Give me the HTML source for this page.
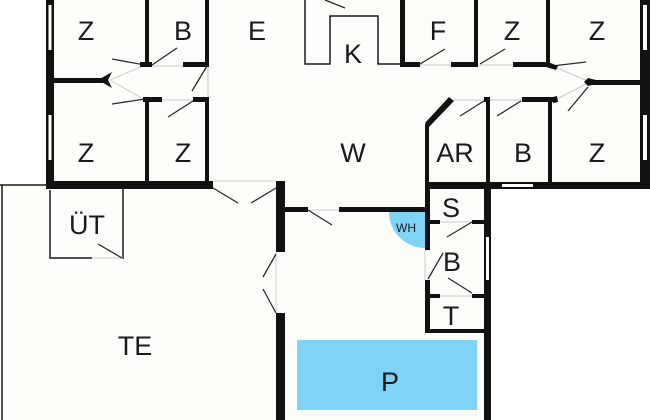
<!DOCTYPE html>
<html><head><meta charset="utf-8"><style>
html,body{margin:0;padding:0;background:#fff;}
svg{display:block;}
text{font-family:"Liberation Sans",sans-serif;fill:#1a1a1a;text-anchor:middle;}
</style></head><body>
<svg width="650" height="420" viewBox="0 0 650 420" xmlns="http://www.w3.org/2000/svg">
<!-- interior fills -->
<g fill="#fdfdf9">
<rect x="46" y="0" width="604" height="189"/>
<rect x="0" y="185" width="284" height="235"/>
<rect x="276" y="180" width="214" height="240"/>
</g>
<!-- P pool -->
<rect x="297" y="340" width="180" height="70" fill="#7fd3f5"/>
<!-- WH -->
<path d="M425,212 L389,212 A36,36 0 0 0 425,248 Z" fill="#7fd3f5"/>
<!-- thin lines -->
<g stroke="#1a1a1a" stroke-width="1.5" fill="none">
<polyline points="305,0 305,64 330,64 330,16 378,16 378,64 400,64"/>
<polyline points="0,185 46,185"/>
<line x1="2" y1="185" x2="2" y2="420"/>
<polyline points="92,258 50,258 50,190"/>
<line x1="123" y1="189" x2="123" y2="259"/>
</g>
<!-- light door-opening lines -->
<g stroke="#ccc" stroke-width="1" fill="none">
<line x1="152" y1="66" x2="183" y2="66"/>
<line x1="162" y1="100" x2="193" y2="100"/>
<line x1="208" y1="65" x2="208" y2="98"/>
<line x1="213" y1="181" x2="276" y2="181"/>
<line x1="276" y1="252" x2="276" y2="313"/>
<line x1="308" y1="210" x2="339" y2="210"/>
<line x1="420" y1="65" x2="451" y2="65"/>
<line x1="478" y1="65" x2="513" y2="65"/>
<line x1="453" y1="100" x2="487" y2="100"/>
<line x1="490" y1="100" x2="522" y2="100"/>
<line x1="92" y1="258" x2="123" y2="258"/>
<line x1="425" y1="250" x2="425" y2="280"/>
<line x1="440" y1="222" x2="472" y2="222"/>
<line x1="440" y1="296" x2="472" y2="296"/>
<line x1="110" y1="80" x2="145" y2="65"/>
<line x1="110" y1="80" x2="145" y2="100"/>
<line x1="590" y1="82" x2="552" y2="66"/>
<line x1="590" y1="82" x2="555" y2="100"/>
</g>
<!-- door swings -->
<g stroke="#2a2a2a" stroke-width="1.3" fill="none">
<line x1="112" y1="59" x2="145" y2="65"/>
<line x1="152" y1="65" x2="177" y2="48"/>
<line x1="112" y1="104" x2="145" y2="99"/>
<line x1="168" y1="117" x2="193" y2="101"/>
<line x1="207" y1="66" x2="192" y2="91"/>
<line x1="213" y1="188" x2="238" y2="203"/>
<line x1="276" y1="188" x2="251" y2="203"/>
<line x1="276" y1="254" x2="263" y2="277"/>
<line x1="276" y1="313" x2="263" y2="289"/>
<line x1="308" y1="210" x2="332" y2="225"/>
<line x1="98" y1="244" x2="122" y2="258"/>
<line x1="420" y1="64" x2="445" y2="49"/>
<line x1="480" y1="64" x2="505" y2="49"/>
<line x1="552" y1="66" x2="586" y2="62"/>
<line x1="568" y1="111" x2="588" y2="87"/>
<line x1="460" y1="116" x2="484" y2="101"/>
<line x1="497" y1="116" x2="521" y2="101"/>
<line x1="325" y1="0" x2="345" y2="8"/>
<line x1="447" y1="237" x2="472" y2="222"/>
<line x1="428" y1="279" x2="443" y2="253"/>
<line x1="448" y1="278" x2="472" y2="293"/>
</g>
<!-- thick walls -->
<g fill="#111">
<rect x="46" y="0" width="8" height="189"/>
<rect x="54" y="78" width="50" height="5"/>
<polygon points="98,80 112,72 108,80 112,88"/>
<rect x="145" y="0" width="4" height="66"/>
<rect x="140" y="62" width="12" height="5"/>
<rect x="183" y="62" width="26" height="5"/>
<rect x="205" y="0" width="4" height="66"/>
<rect x="143" y="97" width="19" height="5"/>
<rect x="193" y="97" width="16" height="5"/>
<rect x="145" y="97" width="4" height="88"/>
<rect x="205" y="97" width="4" height="88"/>
<rect x="46" y="181" width="167" height="8"/>
<rect x="276" y="181" width="9" height="71"/>
<rect x="276" y="313" width="9" height="107"/>
<rect x="285" y="207" width="23" height="5"/>
<rect x="339" y="207" width="87" height="5"/>
<rect x="400" y="0" width="5" height="67"/>
<rect x="400" y="62" width="20" height="5"/>
<rect x="451" y="62" width="27" height="5"/>
<rect x="474" y="0" width="4" height="67"/>
<rect x="513" y="62" width="37" height="5"/>
<rect x="546" y="0" width="4" height="67"/>
<polygon points="548,62 558,66 556,70 546,67"/>
<rect x="592" y="80" width="54" height="5"/>
<polygon points="604,82 588,78 584,82 588,86"/>
<rect x="640" y="0" width="10" height="189"/>
<polygon points="449,97 454,101 429,127 425,123"/>
<rect x="425" y="124" width="4" height="88"/>
<rect x="484" y="97" width="6" height="5"/>
<rect x="522" y="97" width="33" height="5"/>
<polygon points="553,97 557,96 558,102 553,103"/>
<rect x="486" y="97" width="4" height="323"/>
<rect x="548" y="100" width="4" height="85"/>
<rect x="425" y="182" width="225" height="7"/>
<rect x="425" y="182" width="5" height="68"/>
<rect x="425" y="280" width="5" height="53"/>
<rect x="484" y="185" width="7" height="235"/>
<rect x="430" y="220" width="10" height="4"/>
<rect x="472" y="220" width="13" height="4"/>
<rect x="430" y="294" width="10" height="4"/>
<rect x="472" y="294" width="13" height="4"/>
<rect x="425" y="329" width="65" height="4"/>
</g>
<!-- windows -->
<g fill="#fff">
<rect x="48.5" y="5" width="3" height="45"/>
<rect x="48.5" y="115" width="3" height="45"/>
<rect x="643" y="5" width="4" height="45"/>
<rect x="643" y="115" width="4" height="45"/>
<rect x="502" y="184" width="31" height="3"/>
<rect x="486" y="237" width="3" height="43"/>
</g>
<!-- labels -->
<g font-size="27">
<text x="86" y="40">Z</text>
<text x="183" y="40">B</text>
<text x="257" y="40">E</text>
<text x="353" y="63">K</text>
<text x="438" y="40">F</text>
<text x="512" y="40">Z</text>
<text x="597" y="40">Z</text>
<text x="86" y="162">Z</text>
<text x="183" y="162">Z</text>
<text x="353" y="162">W</text>
<text x="455" y="162">AR</text>
<text x="523" y="162">B</text>
<text x="597" y="162">Z</text>
<text x="87" y="234">ÜT</text>
<text x="451" y="217">S</text>
<text x="452" y="271">B</text>
<text x="451" y="325">T</text>
<text x="135" y="355">TE</text>
<text x="390" y="391">P</text>
</g>
<text x="406" y="232" font-size="12">WH</text>
</svg>
</body></html>
